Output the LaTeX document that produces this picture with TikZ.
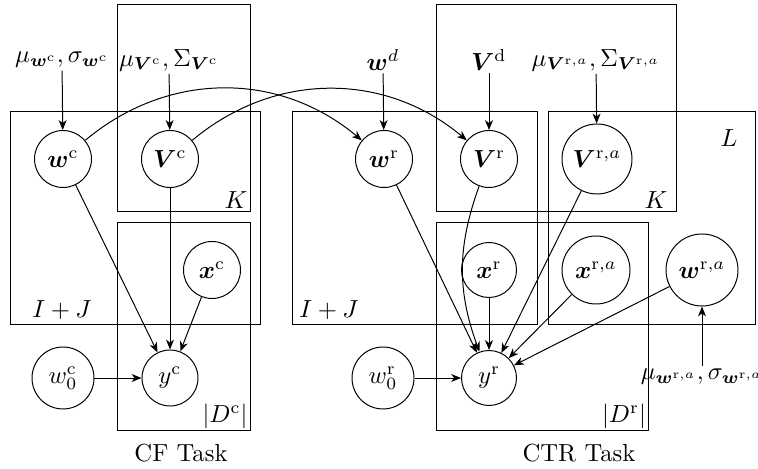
\documentclass[tikz,border=0pt]{standalone}
\usepackage{amsmath,bm}
\usetikzlibrary{arrows.meta}
\begin{document}
\begin{tikzpicture}[x=0.405pt,y=-0.405pt,
  >={Stealth[length=4pt,width=3.2pt,inset=1.2pt]},
  var/.style={draw,circle,inner sep=0pt,minimum size=57*0.405pt},
  lab/.style={inner sep=1pt},
  plate/.style={draw}]
\useasboundingbox (0,0) rectangle (758,469);
% plates
\draw[plate] (10,112) rectangle (260,324);
\draw[plate] (117,5) rectangle (250,212);
\draw[plate] (117,223) rectangle (250,430);
\draw[plate] (292,112) rectangle (537,324);
\draw[plate] (436,5) rectangle (676,212);
\draw[plate] (548,112) rectangle (755,324);
\draw[plate] (436,223) rectangle (648,430);
% plate labels
\node[lab] (pIJc) at (62,310) {$I+J$};
\node[lab] (pKc) at (236,200) {$K$};
\node[lab] (pDc) at (225,416) {$|D^{\mathrm{c}}|$};
\node[lab] (pIJr) at (329,310) {$I+J$};
\node[lab] (pKr) at (656,200) {$K$};
\node[lab] (pL) at (729,138) {$L$};
\node[lab] (pDr) at (624,416) {$|D^{\mathrm{r}}|$};
\node[lab] (tCF) at (181,453) {CF Task};
\node[lab] (tCTR) at (579,453) {CTR Task};
% variables CF
\node[var] (wc) at (63,159) {$\bm{w}^{\mathrm{c}}$};
\node[var] (Vc) at (170,159) {$\bm{V}^{\mathrm{c}}$};
\node[var] (xc) at (212,270) {$\bm{x}^{\mathrm{c}}$};
\node[var,minimum size=56*0.405pt] (yc) at (170,378) {$y^{\mathrm{c}}$};
\node[var,minimum size=62*0.405pt] (w0c) at (63,378) {$w_0^{\mathrm{c}}$};
% variables CTR
\node[var] (wr) at (384,159) {$\bm{w}^{\mathrm{r}}$};
\node[var] (Vr) at (489,159) {$\bm{V}^{\mathrm{r}}$};
\node[var,minimum size=70*0.405pt] (Vra) at (597,159) {$\bm{V}^{\mathrm{r},a}$};
\node[var,minimum size=55*0.405pt] (xr) at (489,270) {$\bm{x}^{\mathrm{r}}$};
\node[var,minimum size=68*0.405pt] (xra) at (596,270) {$\bm{x}^{\mathrm{r},a}$};
\node[var,minimum size=72*0.405pt] (wra) at (702,270) {$\bm{w}^{\mathrm{r},a}$};
\node[var,minimum size=55*0.405pt] (yr) at (489,378) {$y^{\mathrm{r}}$};
\node[var,minimum size=62*0.405pt] (w0r) at (383,378) {$w_0^{\mathrm{r}}$};
% hyperparameter labels
\node[lab] (lwc) at (62,60) {$\mu_{\bm{w}^{\mathrm{c}}},\sigma_{\bm{w}^{\mathrm{c}}}$};
\node[lab] (lVc) at (169,60) {$\mu_{\bm{V}^{\mathrm{c}}},\Sigma_{\bm{V}^{\mathrm{c}}}$};
\node[lab] (lwd) at (383,60) {$\bm{w}^{d}$};
\node[lab] (lVd) at (489,60) {$\bm{V}^{\mathrm{d}}$};
\node[lab] (lVra) at (596,60) {$\mu_{\bm{V}^{\mathrm{r},a}},\Sigma_{\bm{V}^{\mathrm{r},a}}$};
\node[lab] (lwra) at (702,377) {$\mu_{\bm{w}^{\mathrm{r},a}},\sigma_{\bm{w}^{\mathrm{r},a}}$};
% edges
\draw[->] (lwc) -- (wc);
\draw[->] (lVc) -- (Vc);
\draw[->] (lwd) -- (wr);
\draw[->] (lVd) -- (Vr);
\draw[->] (lVra) -- (Vra);
\draw[->] (lwra.north -| wra) -- (wra);
\draw[->] (wc) -- (yc);
\draw[->] (Vc) -- (yc);
\draw[->] (xc) -- (yc);
\draw[->] (w0c) -- (yc);
\draw[->] (wc) to[bend left=40] (wr);
\draw[->] (Vc) to[bend left=40] (Vr);
\draw[->] (wr) -- (yr);
\draw[->] (Vr) to[bend right=20] (yr);
\draw[->] (Vra) -- (yr);
\draw[->] (xr) -- (yr);
\draw[->] (xra) -- (yr);
\draw[->] (wra) -- (yr);
\draw[->] (w0r) -- (yr);
\end{tikzpicture}
\end{document}
